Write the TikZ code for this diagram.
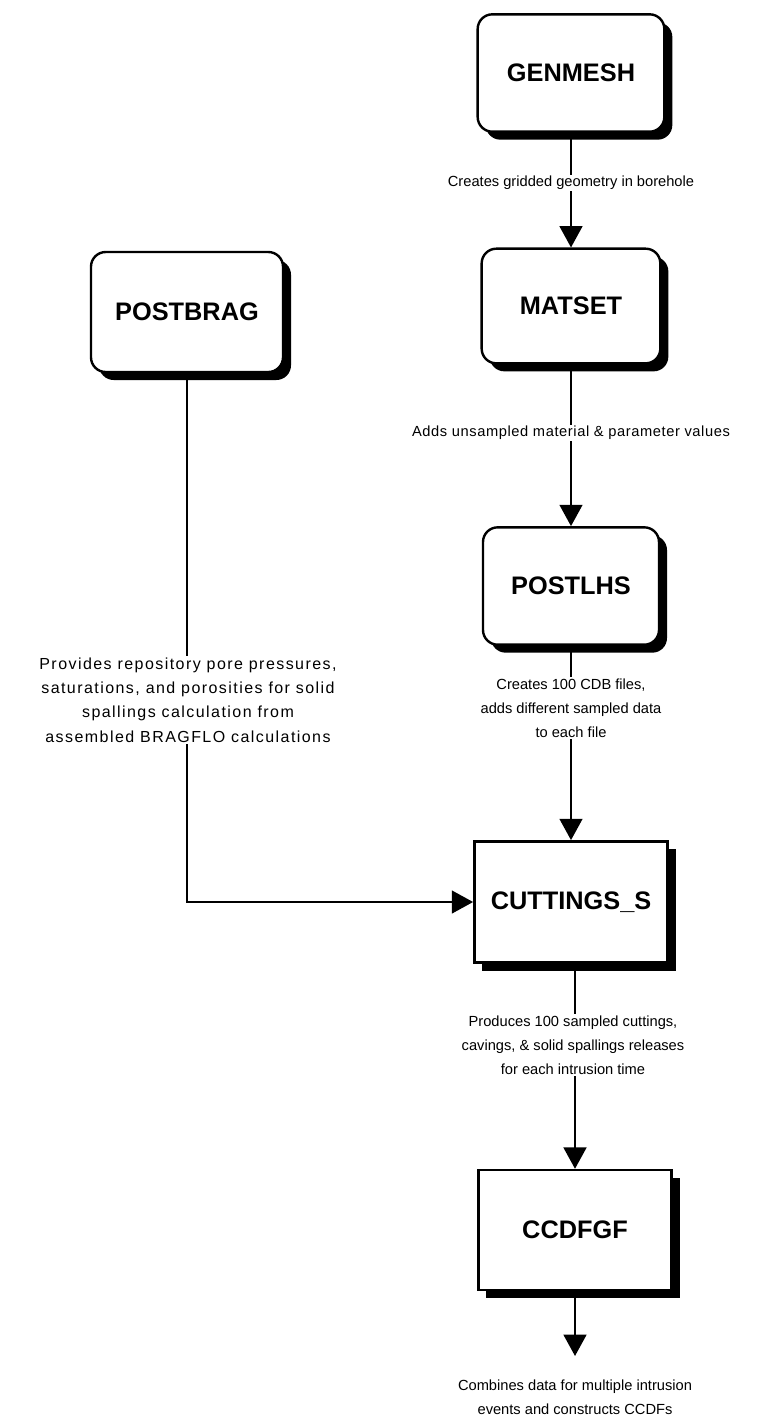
\documentclass[tikz,border=0pt]{standalone}
\usepackage{fontspec}
\setmainfont{Liberation Sans}
\usetikzlibrary{arrows.meta,shadows}
\begin{document}
\begin{tikzpicture}[x=0.75pt,y=-0.75pt,
  prog/.style={draw=black, line width=1.8pt, fill=white,
    minimum width=140pt, minimum height=88pt,
    font=\fontsize{19}{22}\selectfont\bfseries,
    drop shadow={shadow xshift=6pt, shadow yshift=-6pt, fill=black, opacity=1}},
  roundprog/.style={prog, rounded corners=11pt},
  flow/.style={line width=1.9pt, -{Triangle[width=17pt,length=16pt]}},
  note/.style={font=\fontsize{11}{18}\selectfont, align=center, fill=white, inner sep=1pt}
]
\useasboundingbox (0,0) rectangle (784,1425);

% program boxes
\node[roundprog] (genmesh) at (571,73) {GENMESH};
\node[roundprog, minimum width=134pt, minimum height=86pt] (matset) at (571,306) {MATSET};
\node[roundprog, minimum width=132pt] (postlhs) at (571,586) {POSTLHS};
\node[roundprog, minimum width=144pt, minimum height=90pt] (postbrag) at (187,312) {POSTBRAG};
\node[prog, minimum width=145pt, minimum height=91pt] (cuttings) at (571,902) {CUTTINGS\_S};
\node[prog, minimum width=145pt, minimum height=90pt] (ccdfgf) at (575,1230) {CCDFGF};
\coordinate (result) at (575,1356);

% data flow
\draw[flow] (genmesh) -- (matset);
\draw[flow] (matset) -- (postlhs);
\draw[flow] (postlhs) -- (postlhs |- cuttings.north);
\draw[flow] (postbrag) |- (cuttings);
\draw[flow] (cuttings.south -| ccdfgf) -- (ccdfgf);
\draw[flow] (ccdfgf) -- (result);

% descriptions along the flow
\node[note] (d1) at (571,183) {Creates gridded geometry in borehole};
\node[note, font=\fontsize{11}{18}\selectfont\addfontfeature{LetterSpace=4}] (d2) at (571,433) {Adds unsampled material \& parameter values};
\node[note] (d3) at (571,708) {Creates 100 CDB files,\\adds different sampled data\\to each file};
\node[note, font=\fontsize{12}{18.3}\selectfont\addfontfeature{LetterSpace=9}] (d4) at (188,700) {Provides repository pore pressures,\\saturations, and porosities for solid\\spallings calculation from\\assembled BRAGFLO calculations};
\node[note] (d5) at (573,1045) {Produces 100 sampled cuttings,\\cavings, \& solid spallings releases\\for each intrusion time};
\node[note] (d6) at (575,1397) {Combines data for multiple intrusion\\events and constructs CCDFs};
\end{tikzpicture}
\end{document}
